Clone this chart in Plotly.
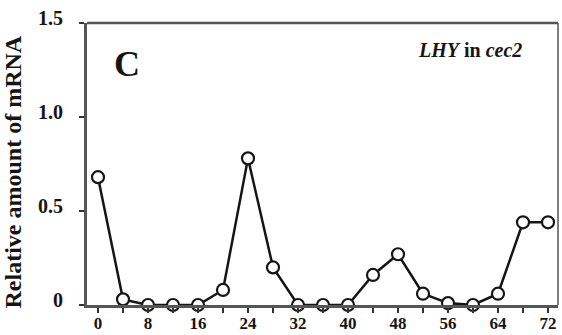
import plotly.graph_objects as go

hours = [0, 4, 8, 12, 16, 20, 24, 28, 32, 36, 40, 44, 48, 52, 56, 60, 64, 68, 72]
lhy_cec2 = [0.68, 0.03, 0.0, 0.0, 0.0, 0.08, 0.78, 0.20, 0.0, 0.0, 0.0, 0.16, 0.27, 0.06, 0.01, 0.0, 0.06, 0.44, 0.44]
x_tick_vals = [0, 8, 16, 24, 32, 40, 48, 56, 64, 72]
x_minor_vals = [4, 12, 20, 28, 36, 44, 52, 60, 68]
y_tick_vals = [0, 0.5, 1.0, 1.5]
y_tick_text = ["0", "0.5", "1.0", "1.5"]

font_family = "Liberation Serif"

fig = go.Figure()
fig.add_trace(go.Scatter(
    x=hours, y=lhy_cec2, mode="lines+markers",
    line=dict(color="#151515", width=2.5),
    marker=dict(symbol="circle", size=12, color="white",
                line=dict(color="#151515", width=2.2)),
    cliponaxis=False, showlegend=False,
))

fig.update_layout(
    width=562, height=335,
    margin=dict(l=87, r=4, t=23, b=30, autoexpand=False),
    paper_bgcolor="white", plot_bgcolor="white",
    font=dict(family=font_family, color="#151515"),
    xaxis=dict(
        range=[-1.76, 73.6], tickmode="array", tickvals=x_tick_vals,
        ticktext=[f"<b>{v}</b>" for v in x_tick_vals],
        ticks="outside", ticklen=5, tickwidth=1.8, tickcolor="#333",
        minor=dict(tickmode="array", tickvals=x_minor_vals, ticks="outside", ticklen=5, tickwidth=1.8, tickcolor="#333"),
        showline=True, linewidth=3, linecolor="#555", showgrid=False, zeroline=False,
        tickfont=dict(size=17, family=font_family),
        ticklabelstandoff=-4, automargin=False,
    ),
    yaxis=dict(
        range=[0, 1.5], tickmode="array", tickvals=y_tick_vals,
        ticktext=[f"<b>{t}</b>" for t in y_tick_text],
        ticks="outside", ticklen=5, tickwidth=1.8, tickcolor="#333",
        showline=True, linewidth=3, linecolor="#555", showgrid=False, zeroline=False,
        tickfont=dict(size=20, family=font_family),
        ticklabelstandoff=12, ticklabelshift=-5, automargin=False,
    ),
    shapes=[
        dict(type="line", xref="paper", yref="paper", x0=0, x1=1, y0=1, y1=1, line=dict(color="#555", width=2.5)),
        dict(type="line", xref="paper", yref="paper", x0=1, x1=1, y0=0, y1=1, line=dict(color="#555", width=1.5)),
    ],
    annotations=[
        dict(text="<b>Relative amount of mRNA</b>", xref="paper", yref="paper", x=0, y=0.47,
             xshift=-74, xanchor="center", yanchor="middle", textangle=-90,
             showarrow=False, font=dict(size=24, family=font_family)),
        dict(text="<b>C</b>", xref="paper", yref="paper", x=0.085, y=0.855, xanchor="center", yanchor="middle",
             showarrow=False, font=dict(size=36, family=font_family)),
        dict(text="<b><i>LHY</i> in <i>cec2</i></b>", xref="paper", yref="paper", x=0.813, y=0.905, xanchor="center", yanchor="middle",
             showarrow=False, font=dict(size=20, family=font_family)),
    ],
)

fig.write_html("out.html", config={"displayModeBar": False},
               post_script="document.body.style.margin='0';document.body.style.overflow='hidden';")
